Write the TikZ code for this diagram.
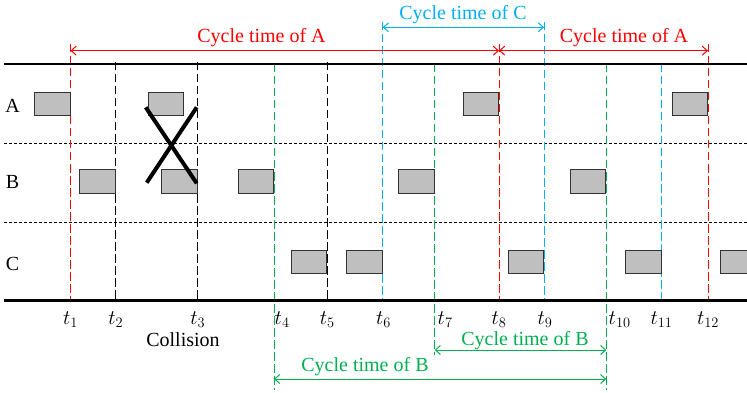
\documentclass[tikz,border=0pt]{standalone}
\usepackage{fontspec}
\setmainfont{Liberation Serif}
\usepackage{xcolor}
\usepackage{tikz}
\usetikzlibrary{arrows.meta, positioning}

\definecolor{cycA}{RGB}{255,0,0}
\definecolor{cycB}{RGB}{0,176,80}
\definecolor{cycC}{RGB}{0,176,240}

\begin{document}
\begin{tikzpicture}[
    x=1pt, y=-1pt,
    every node/.style={font=\fontsize{20}{24}\selectfont, inner sep=0pt},
    slot/.style={rectangle, draw=black!80, fill=black!25, line width=0.9pt,
                 minimum width=35.5pt, minimum height=23.5pt, anchor=east},
    axis/.style={line width=2.4pt, draw=black},
    sepline/.style={line width=0.6pt, draw=black, dash pattern=on 3pt off 2pt},
    tline/.style={line width=1pt, dash pattern=on 8.5pt off 3.5pt},
    cyc/.style={{Straight Barb[length=5pt,width=9pt]}-{Straight Barb[length=5pt,width=9pt]},
                line width=1pt},
    tlbl/.style={anchor=base},
    lbl/.style={anchor=base},
    cross/.style={line width=4pt, draw=black}
]
\clip (0,0) rectangle (747,393);

% === Row separators ===
\draw[sepline] (4,143.3) -- (747,143.3);
\draw[sepline] (4,222.3) -- (747,222.3);

% === Time marks ===
\draw[tline, cycA]  (70.5,44)  -- (70.5,300);
\draw[tline, black] (115.7,62) -- (115.7,300);
\draw[tline, black] (197.7,62) -- (197.7,300);
\draw[tline, cycB]  (274,64)   -- (274,390);
\draw[tline, black] (327.3,62) -- (327.3,300);
\draw[tline, cycC]  (382.7,22) -- (382.7,300);
\draw[tline, cycB]  (434.7,64) -- (434.7,355);
\draw[tline, cycA]  (499,44)   -- (499,300);
\draw[tline, cycC]  (544,22)   -- (544,300);
\draw[tline, cycB]  (606.3,64) -- (606.3,390);
\draw[tline, cycC]  (661.5,64) -- (661.5,300);
\draw[tline, cycA]  (708,44)   -- (708,300);

% === Time axis ===
\draw[axis] (4,64) -- (747,64);
\draw[axis] (4,300.5) -- (747,300.5);

\node[tlbl] (lt1) at (70.5,324) {$t_1$};
\node[tlbl] (lt2) at (115.7,324) {$t_2$};
\node[tlbl] (lt3) at (197.7,324) {$t_3$};
\node[tlbl, anchor=base west] (lt4) at (274.5,324) {$t_4$};
\node[tlbl] (lt5) at (327.3,324) {$t_5$};
\node[tlbl] (lt6) at (383.5,324) {$t_6$};
\node[tlbl, anchor=base west] (lt7) at (437.5,324) {$t_7$};
\node[tlbl] (lt8) at (499,324) {$t_8$};
\node[tlbl] (lt9) at (545,324) {$t_9$};
\node[tlbl, anchor=base west] (lt10) at (608.5,324) {$t_{10}$};
\node[tlbl] (lt11) at (661.5,324) {$t_{11}$};
\node[tlbl] (lt12) at (708,324) {$t_{12}$};

\node[lbl] (coll) at (183,346.7) {Collision};

% === Rows A, B, C ===
\node[lbl] (rowA) at (12.5,112.7) {A};
\node[lbl] (rowB) at (12.5,189) {B};
\node[lbl] (rowC) at (12.5,270) {C};

\node[slot] (a1) at (70.5,104) {};
\node[slot] (a2) at (184,104) {};
\node[slot] (a3) at (499,104) {};
\node[slot] (a4) at (708,104) {};

\node[slot] (b1) at (115.7,181.5) {};
\node[slot] (b2) at (197.7,181.5) {};
\node[slot] (b3) at (274,181.5) {};
\node[slot] (b4) at (434.7,181.5) {};
\node[slot] (b5) at (606.3,181.5) {};

\node[slot] (c1) at (327.3,262) {};
\node[slot] (c2) at (382.7,262) {};
\node[slot] (c3) at (544,262) {};
\node[slot] (c4) at (661.5,262) {};
\node[slot] (c5) at (756,262) {};

% collision mark
\draw[cross] (145.7,107.3) -- (196.7,183.3);
\draw[cross] (196.7,107.3) -- (146.7,182.7);

% === Cycle times ===
\coordinate (cA0) at (70.5,50.7);
\coordinate (cA1) at (499,50.7);
\coordinate (cA2) at (708,50.7);
\coordinate (cC0) at (382.7,27.3);
\coordinate (cC1) at (544,27.3);
\coordinate (cB0) at (434.7,350);
\coordinate (cB1) at (606.3,350);
\coordinate (cB2) at (274,379);
\coordinate (cB3) at (606.3,379);

\draw[cyc, cycA] (cA0) -- (cA1);
\draw[cyc, cycA] (cA1) -- (cA2);
\draw[cyc, cycC] (cC0) -- (cC1);
\draw[cyc, cycB] (cB0) -- (cB1);
\draw[cyc, cycB] (cB2) -- (cB3);

\node[lbl, text=cycA] (lblA1) at (261.5,43) {Cycle time of A};
\node[lbl, text=cycA] (lblA2) at (624,43) {Cycle time of A};
\node[lbl, text=cycC] (lblC) at (463,20) {Cycle time of C};
\node[lbl, text=cycB] (lblB1) at (525,345) {Cycle time of B};
\node[lbl, text=cycB] (lblB2) at (365,371.7) {Cycle time of B};

\end{tikzpicture}
\end{document}
